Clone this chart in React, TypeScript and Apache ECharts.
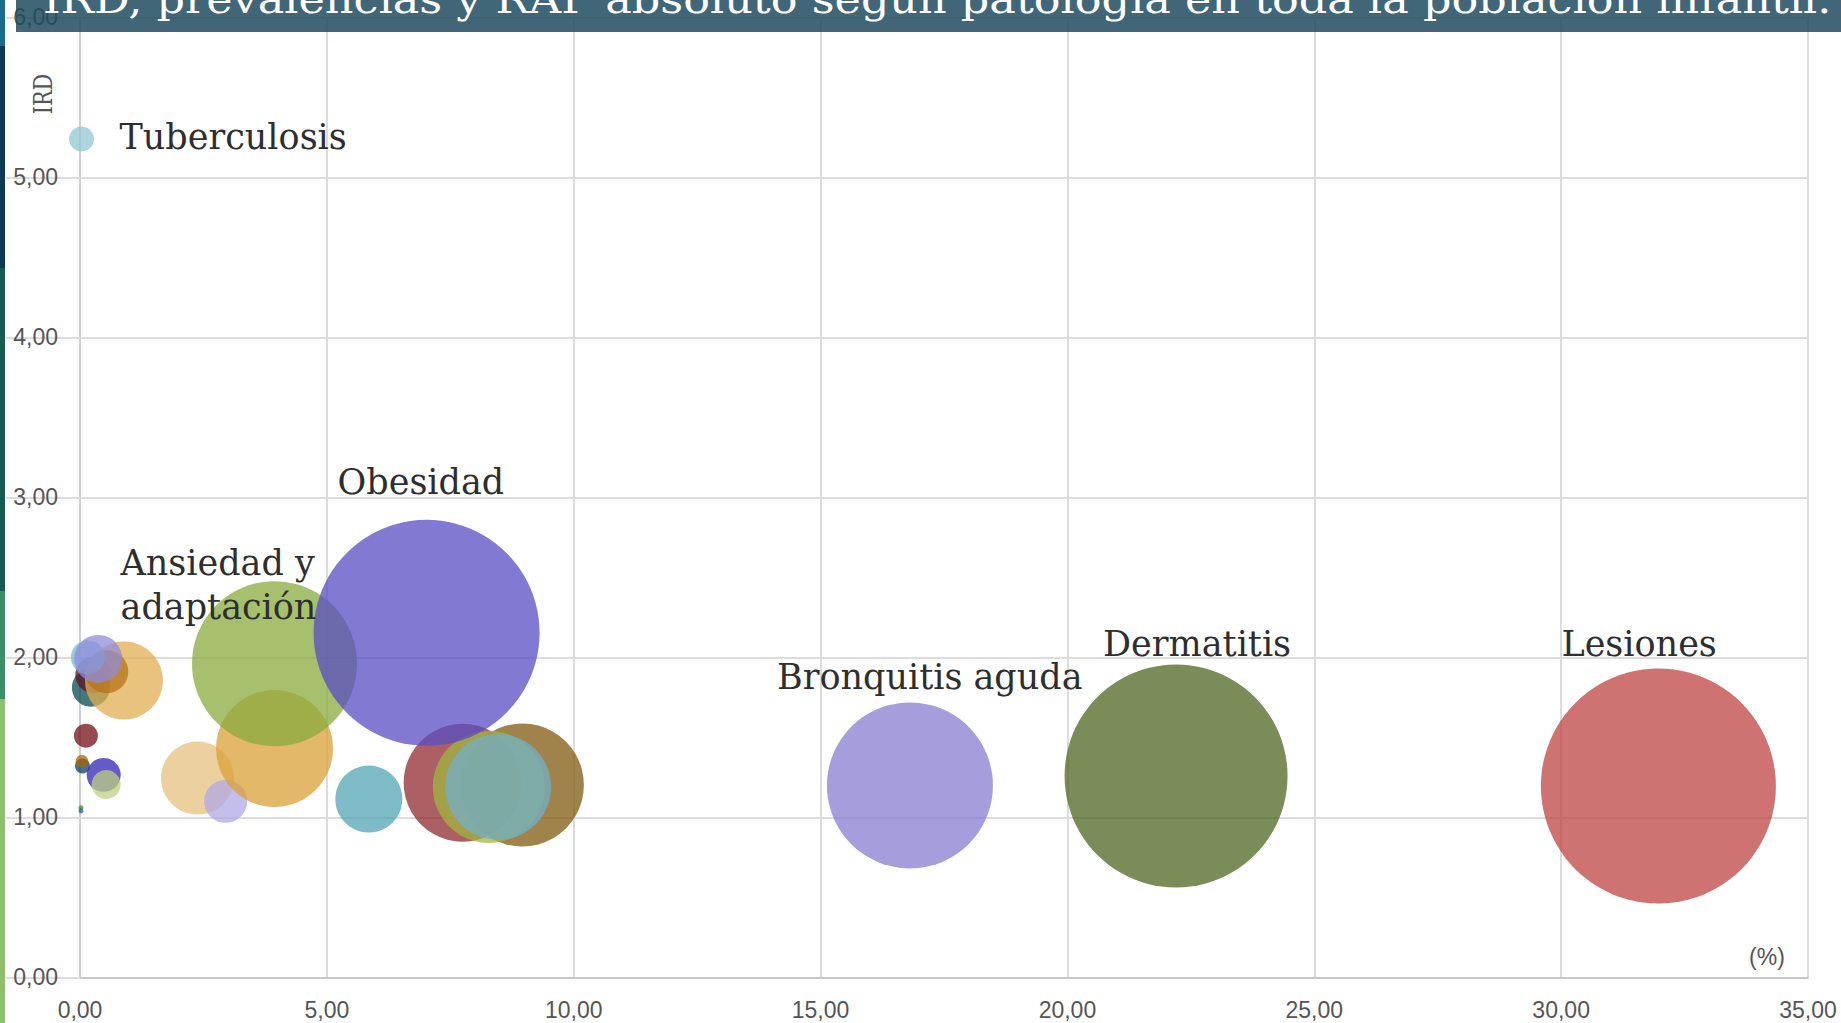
import React, { useEffect, useRef } from "react";
import * as echarts from "echarts";

const TITLE = "IRD, prevalencias y RAP absoluto según patología en toda la población infantil.";
const X_UNIT = "(%)";
const Y_NAME = "IRD";

// bubble data (draw order), prevalence %, IRD, RAP absoluto (bubble area)
const names = [
  "Tuberculosis", "p2", "p3", "p4", "p5", "p6", "p7", "p8",
  "p9", "p10", "p11", "p12", "p13", "p14",
  "p15", "p16", "p17", "Ansiedad y\nadaptación", "p19",
  "p20", "p21", "p22", "p23", "Obesidad",
  "Bronquitis aguda", "Dermatitis", "Lesiones",
];
const prevalence = [
  0.03, 0.02, 0.02, 0.05, 0.04, 0.12, 0.48, 0.53,
  0.22, 0.27, 0.89, 0.54, 0.16, 0.37,
  2.38, 2.95, 3.94, 3.94, 5.85,
  7.75, 8.96, 8.28, 8.47, 7.02,
  16.81, 22.2, 31.97,
];
const ird = [
  5.24, 1.06, 1.04, 1.32, 1.35, 1.51, 1.265, 1.205,
  1.81, 1.89, 1.855, 1.91, 2.0, 1.99,
  1.245, 1.1, 1.43, 1.96, 1.114,
  1.216, 1.202, 1.19, 1.19, 2.153,
  1.199, 1.258, 1.195,
];
const rap = [
  0.39, 0.016, 0.016, 0.14, 0.1, 0.36, 0.72, 0.53,
  0.9, 0.81, 3.8, 1.16, 0.72, 1.44,
  3.33, 1.16, 8.56, 17.02, 2.81,
  8.7, 9.46, 7.84, 7.02, 31.92,
  17.22, 31.08, 34.52,
];

// styles
const colors = [
  "#90c7d3", "#4a8a2a", "#2a5aa0", "#083e73", "#a86600", "#730f16", "#3023b6", "#bcd080",
  "#0b4852", "#5a1420", "#e2af52", "#b67316", "#73b9cc", "#908bdb",
  "#e7c080", "#afa8e4", "#dba037", "#88ab3e", "#52a4b3",
  "#902b30", "#80580f", "#a2b63e", "#73afca", "#584ec3",
  "#887ed0", "#4e6620", "#bf4343",
];
// label anchor (left, middle) relative to bubble centre, in px
const labelOffsets: Record<string, [number, number]> = {
  "Tuberculosis": [38, -2],
  "Ansiedad y\nadaptación": [-154, -79],
  "Obesidad": [-89, -151],
  "Bronquitis aguda": [-133, -108],
  "Dermatitis": [-73, -132],
  "Lesiones": [-97, -142],
};
const stripColors = ["#1b6b8a", "#0f3a56", "#165a50", "#3a8f68", "#8fbf6c"];
const stripStops = [0, 46, 268, 591, 699, 1023];

const SIZE_K = 40;
const fmt = (v: number) => v.toFixed(2).replace(".", ",");

export default function App() {
  const ref = useRef<HTMLDivElement>(null);
  useEffect(() => {
    if (!ref.current) return;
    const chart = echarts.init(ref.current, undefined, { renderer: "svg" });
    const ctx = document.createElement("canvas").getContext("2d");
    let titleScale = 1;
    if (ctx) {
      ctx.font = "40px 'DejaVu Serif'";
      const w = ctx.measureText(TITLE).width;
      if (w > 0) titleScale = 1789 / w;
    }
    const data = names.map((n, i) => {
      const off = labelOffsets[n];
      const r = (Math.sqrt(rap[i]) * SIZE_K) / 2;
      return {
        name: n,
        value: [prevalence[i], ird[i], rap[i]],
        itemStyle: { color: colors[i], opacity: 0.75 },
        label: off
          ? {
              show: true,
              position: [r + off[0], r + off[1]],
              formatter: n,
              align: "left",
              verticalAlign: "middle",
              color: "#2e2e2e",
              opacity: 1,
              fontFamily: "DejaVu Serif",
              fontSize: 35,
              lineHeight: 44,
            }
          : { show: false },
      };
    });
    const strips = stripColors.map((c, i) => ({
      type: "rect",
      z: 100,
      shape: { x: 0, y: stripStops[i], width: 5, height: stripStops[i + 1] - stripStops[i] },
      style: { fill: c },
    }));
    chart.setOption({
      animation: false,
      grid: { left: 80, right: 33, top: 17.3, bottom: 45.7, containLabel: false },
      xAxis: {
        type: "value",
        min: 0,
        max: 35,
        interval: 5,
        axisLine: { show: true, lineStyle: { color: "#c8c8c8", width: 2 } },
        axisTick: { show: false },
        axisLabel: {
          margin: 21,
          fontSize: 23,
          color: "#555",
          fontFamily: "Liberation Sans",
          formatter: fmt,
        },
        splitLine: { show: true, lineStyle: { color: "#dcdcdc", width: 2 } },
      },
      yAxis: {
        type: "value",
        min: 0,
        max: 6,
        interval: 1,
        axisLine: { show: true, lineStyle: { color: "#cfcfcf", width: 2 } },
        axisTick: { show: true, length: 74, lineStyle: { color: "#dcdcdc", width: 2 } },
        axisLabel: {
          margin: 22,
          fontSize: 23,
          color: "#555",
          fontFamily: "Liberation Sans",
          formatter: fmt,
        },
        splitLine: { show: true, lineStyle: { color: "#dcdcdc", width: 2 } },
      },
      series: [
        {
          type: "scatter",
          data,
          symbol: "circle",
          symbolSize: (v: number[]) => Math.sqrt(v[2]) * SIZE_K,
          emphasis: { disabled: true },
          labelLayout: { hideOverlap: false },
        },
      ],
      graphic: [
        ...strips,
        {
          type: "rect",
          z: 100,
          shape: { x: 16, y: 0, width: 1825, height: 32 },
          style: { fill: "rgba(30,75,95,0.85)" },
        },
        {
          type: "text",
          z: 101,
          x: 43,
          y: -1,
          scaleX: titleScale,
          style: {
            text: TITLE,
            fill: "#ffffff",
            font: "40px 'DejaVu Serif'",
            align: "left",
            verticalAlign: "middle",
          },
        },
        {
          type: "text",
          z: 50,
          x: 43,
          y: 94,
          rotation: Math.PI / 2,
          scaleX: 0.8,
          style: {
            text: Y_NAME,
            fill: "#555",
            font: "26px 'DejaVu Serif'",
            align: "center",
            verticalAlign: "middle",
          },
        },
        {
          type: "text",
          z: 50,
          x: 1767,
          y: 957,
          style: {
            text: X_UNIT,
            fill: "#555",
            font: "23px 'Liberation Sans'",
            align: "center",
            verticalAlign: "middle",
          },
        },
      ],
    });
    return () => chart.dispose();
  }, []);
  return (
    <div
      ref={ref}
      style={{ position: "fixed", left: 0, top: 0, width: 1841, height: 1023, background: "#fff" }}
    />
  );
}
